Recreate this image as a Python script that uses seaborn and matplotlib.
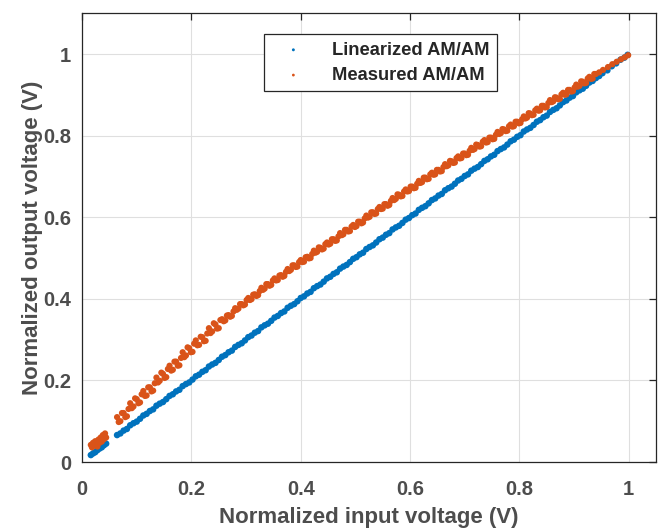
import pandas as pd
import matplotlib
matplotlib.use("Agg")
import matplotlib.pyplot as plt
import seaborn as sns

sns.set_style("white")
plt.rcParams['font.family'] = ['Liberation Sans', 'DejaVu Sans']
plt.rcParams['font.weight'] = 'bold'

# --- data ---
# shared input grid for the dense part of both traces
grid_in = [0.064, 0.070, 0.076, 0.082, 0.088, 0.094, 0.100, 0.106, 0.112, 0.118,
           0.124, 0.130, 0.136, 0.142, 0.148, 0.154, 0.160, 0.166, 0.172, 0.178,
           0.184, 0.190, 0.196, 0.202, 0.208, 0.214, 0.220, 0.226, 0.232, 0.238,
           0.244, 0.250, 0.256, 0.262, 0.268, 0.274, 0.280, 0.286, 0.292, 0.298,
           0.304, 0.310, 0.316, 0.322, 0.328, 0.334, 0.340, 0.346, 0.352, 0.358,
           0.364, 0.370, 0.376, 0.382, 0.388, 0.394, 0.400, 0.406, 0.412, 0.418,
           0.424, 0.430, 0.436, 0.442, 0.448, 0.454, 0.460, 0.466, 0.472, 0.478,
           0.484, 0.490, 0.496, 0.502, 0.508, 0.514, 0.520, 0.526, 0.532, 0.538,
           0.544, 0.550, 0.556, 0.562, 0.568, 0.574, 0.580, 0.586, 0.592, 0.598,
           0.604, 0.610, 0.616, 0.622, 0.628, 0.634, 0.640, 0.646, 0.652, 0.658,
           0.664, 0.670, 0.676, 0.682, 0.688, 0.694, 0.700, 0.706, 0.712, 0.718,
           0.724, 0.730, 0.736, 0.742, 0.748, 0.754, 0.760, 0.766, 0.772, 0.778,
           0.784, 0.790, 0.796, 0.802, 0.808, 0.814, 0.820, 0.826, 0.832, 0.838,
           0.844, 0.850, 0.856, 0.862, 0.868, 0.874, 0.880, 0.886, 0.892, 0.898,
           0.904, 0.910, 0.916, 0.922, 0.928, 0.934, 0.940]

# in-between input samples (measured trace is denser)
mid_in = [0.067, 0.073, 0.079, 0.085, 0.091, 0.097, 0.103, 0.109, 0.115, 0.121,
          0.127, 0.133, 0.139, 0.145, 0.151, 0.157, 0.163, 0.169, 0.175, 0.181,
          0.187, 0.193, 0.199, 0.205, 0.211, 0.217, 0.223, 0.229, 0.235, 0.241,
          0.247, 0.253, 0.259, 0.265, 0.271, 0.277, 0.283, 0.289, 0.295, 0.301,
          0.307, 0.313, 0.319, 0.325, 0.331, 0.337, 0.343, 0.349, 0.355, 0.361,
          0.367, 0.373, 0.379, 0.385, 0.391, 0.397, 0.403, 0.409, 0.415, 0.421,
          0.427, 0.433, 0.439, 0.445, 0.451, 0.457, 0.463, 0.469, 0.475, 0.481,
          0.487, 0.493, 0.499, 0.505, 0.511, 0.517, 0.523, 0.529, 0.535, 0.541,
          0.547, 0.553, 0.559, 0.565, 0.571, 0.577, 0.583, 0.589, 0.595, 0.601,
          0.607, 0.613, 0.619, 0.625, 0.631, 0.637, 0.643, 0.649, 0.655, 0.661,
          0.667, 0.673, 0.679, 0.685, 0.691, 0.697, 0.703, 0.709, 0.715, 0.721,
          0.727, 0.733, 0.739, 0.745, 0.751, 0.757, 0.763, 0.769, 0.775, 0.781,
          0.787, 0.793, 0.799, 0.805, 0.811, 0.817, 0.823, 0.829, 0.835, 0.841,
          0.847, 0.853, 0.859, 0.865, 0.871, 0.877, 0.883, 0.889, 0.895, 0.901,
          0.907, 0.913, 0.919, 0.925, 0.931, 0.937]

lin_out_grid = [0.066, 0.070, 0.077, 0.081, 0.090, 0.095, 0.099, 0.106, 0.114, 0.118,
                0.125, 0.129, 0.138, 0.143, 0.147, 0.154, 0.162, 0.166, 0.173, 0.177,
                0.186, 0.191, 0.195, 0.202, 0.210, 0.214, 0.221, 0.225, 0.234, 0.239,
                0.243, 0.250, 0.258, 0.262, 0.269, 0.273, 0.282, 0.287, 0.291, 0.298,
                0.306, 0.310, 0.317, 0.321, 0.330, 0.335, 0.339, 0.346, 0.354, 0.358,
                0.365, 0.369, 0.378, 0.383, 0.387, 0.394, 0.402, 0.406, 0.413, 0.417,
                0.426, 0.431, 0.435, 0.442, 0.450, 0.454, 0.461, 0.465, 0.474, 0.479,
                0.483, 0.490, 0.498, 0.502, 0.509, 0.513, 0.522, 0.527, 0.531, 0.538,
                0.546, 0.550, 0.557, 0.561, 0.570, 0.575, 0.579, 0.586, 0.594, 0.598,
                0.605, 0.609, 0.618, 0.623, 0.627, 0.634, 0.642, 0.646, 0.653, 0.657,
                0.666, 0.671, 0.675, 0.682, 0.690, 0.694, 0.701, 0.705, 0.714, 0.719,
                0.723, 0.730, 0.738, 0.742, 0.749, 0.753, 0.762, 0.767, 0.771, 0.778,
                0.786, 0.790, 0.797, 0.801, 0.810, 0.815, 0.819, 0.826, 0.834, 0.838,
                0.845, 0.849, 0.858, 0.863, 0.867, 0.874, 0.882, 0.886, 0.893, 0.897,
                0.906, 0.911, 0.915, 0.922, 0.930, 0.934, 0.941]

meas_out_grid = [0.110, 0.100, 0.120, 0.112, 0.144, 0.136, 0.154, 0.146, 0.174, 0.163,
                 0.183, 0.175, 0.207, 0.199, 0.216, 0.208, 0.236, 0.226, 0.246, 0.237,
                 0.269, 0.261, 0.279, 0.270, 0.298, 0.287, 0.306, 0.297, 0.328, 0.320,
                 0.337, 0.328, 0.350, 0.347, 0.360, 0.358, 0.377, 0.376, 0.387, 0.386,
                 0.402, 0.399, 0.411, 0.409, 0.427, 0.425, 0.436, 0.434, 0.450, 0.446,
                 0.458, 0.456, 0.473, 0.471, 0.482, 0.479, 0.495, 0.491, 0.503, 0.500,
                 0.518, 0.515, 0.525, 0.523, 0.538, 0.535, 0.546, 0.543, 0.561, 0.558,
                 0.569, 0.566, 0.581, 0.578, 0.589, 0.587, 0.604, 0.601, 0.612, 0.609,
                 0.625, 0.621, 0.632, 0.630, 0.647, 0.645, 0.655, 0.652, 0.668, 0.664,
                 0.675, 0.672, 0.689, 0.686, 0.697, 0.694, 0.709, 0.705, 0.716, 0.713,
                 0.730, 0.727, 0.737, 0.734, 0.749, 0.745, 0.756, 0.753, 0.770, 0.767,
                 0.777, 0.774, 0.789, 0.784, 0.795, 0.792, 0.809, 0.806, 0.815, 0.812,
                 0.827, 0.823, 0.834, 0.831, 0.847, 0.844, 0.854, 0.851, 0.866, 0.862,
                 0.873, 0.870, 0.887, 0.884, 0.893, 0.890, 0.905, 0.901, 0.912, 0.909,
                 0.925, 0.922, 0.932, 0.929, 0.944, 0.940, 0.951]

meas_out_mid = [0.098, 0.120, 0.110, 0.130, 0.132, 0.156, 0.144, 0.166, 0.162, 0.183,
                0.173, 0.193, 0.195, 0.219, 0.206, 0.228, 0.224, 0.246, 0.236, 0.255,
                0.257, 0.281, 0.269, 0.290, 0.286, 0.307, 0.296, 0.315, 0.316, 0.340,
                0.327, 0.348, 0.345, 0.359, 0.356, 0.369, 0.373, 0.387, 0.384, 0.397,
                0.397, 0.410, 0.407, 0.419, 0.422, 0.436, 0.432, 0.445, 0.445, 0.457,
                0.454, 0.466, 0.468, 0.482, 0.478, 0.490, 0.490, 0.502, 0.499, 0.510,
                0.513, 0.526, 0.521, 0.534, 0.533, 0.546, 0.542, 0.553, 0.556, 0.569,
                0.565, 0.577, 0.576, 0.589, 0.585, 0.597, 0.599, 0.612, 0.608, 0.620,
                0.620, 0.632, 0.628, 0.640, 0.642, 0.656, 0.651, 0.663, 0.663, 0.675,
                0.671, 0.682, 0.684, 0.697, 0.693, 0.705, 0.704, 0.716, 0.712, 0.723,
                0.725, 0.738, 0.733, 0.745, 0.744, 0.756, 0.752, 0.763, 0.765, 0.778,
                0.773, 0.785, 0.783, 0.795, 0.791, 0.802, 0.804, 0.816, 0.811, 0.823,
                0.822, 0.834, 0.830, 0.840, 0.842, 0.855, 0.850, 0.862, 0.861, 0.873,
                0.869, 0.880, 0.882, 0.894, 0.889, 0.901, 0.900, 0.912, 0.908, 0.918,
                0.920, 0.933, 0.928, 0.940, 0.939, 0.951]

# sparse low-amplitude and high-amplitude samples
lin_in_low = [0.016, 0.020, 0.024, 0.028, 0.032, 0.036, 0.040, 0.044]
lin_out_low = [0.017, 0.021, 0.024, 0.029, 0.033, 0.036, 0.041, 0.045]
lin_in_high = [0.946, 0.952, 0.961, 0.969, 0.977, 0.985, 0.992, 0.998]
lin_out_high = [0.946, 0.953, 0.960, 0.970, 0.977, 0.986, 0.991, 0.998]

meas_in_low = [0.016, 0.018, 0.020, 0.022, 0.024, 0.026, 0.028, 0.030,
               0.032, 0.034, 0.036, 0.038, 0.040, 0.042, 0.044]
meas_out_low = [0.042, 0.036, 0.047, 0.040, 0.051, 0.044, 0.038, 0.055,
                0.047, 0.060, 0.050, 0.066, 0.056, 0.070, 0.060]
meas_in_high = [0.946, 0.953, 0.962, 0.970, 0.978, 0.986, 0.993, 0.999]
meas_out_high = [0.955, 0.961, 0.968, 0.975, 0.981, 0.987, 0.992, 0.997]

series_names = ['Linearized AM/AM', 'Measured AM/AM']
colors = ['#0072BD', '#D95319']

lin_in = lin_in_low + grid_in + lin_in_high
lin_out = lin_out_low + lin_out_grid + lin_out_high
meas_in = meas_in_low + grid_in + mid_in + meas_in_high
meas_out = meas_out_low + meas_out_grid + meas_out_mid + meas_out_high

df_lin = pd.DataFrame({'vin': lin_in, 'vout': lin_out, 'series': series_names[0]})
df_meas = pd.DataFrame({'vin': meas_in, 'vout': meas_out, 'series': series_names[1]})

fig, ax = plt.subplots(figsize=(6.62, 5.28), dpi=100)
fig.subplots_adjust(left=0.124, right=0.991, bottom=0.125, top=0.975)

sns.scatterplot(data=df_lin, x='vin', y='vout', color=colors[0], s=22,
                linewidth=0, edgecolor='none', ax=ax, zorder=3, label=series_names[0])
sns.scatterplot(data=df_meas, x='vin', y='vout', color=colors[1], s=20,
                linewidth=0, edgecolor='none', ax=ax, zorder=3, label=series_names[1])

ax.set_xlim(0, 1.05)
ax.set_ylim(0, 1.1)
ax.set_xticks([0, 0.2, 0.4, 0.6, 0.8, 1.0])
ax.set_xticklabels(['0', '0.2', '0.4', '0.6', '0.8', '1'])
ax.set_yticks([0, 0.2, 0.4, 0.6, 0.8, 1.0])
ax.set_yticklabels(['0', '0.2', '0.4', '0.6', '0.8', '1'])
ax.grid(True, color='#dfdfdf', linewidth=0.8)
ax.set_axisbelow(True)

for sp in ax.spines.values():
    sp.set_color('#262626')
    sp.set_linewidth(0.9)
    sp.set_visible(True)

ax.tick_params(direction='in', length=5, width=0.9, color='#262626',
               top=True, right=True, labelsize=14.5, labelcolor='#4d4d4d')
ax.tick_params(axis='x', pad=13)
ax.tick_params(axis='y', pad=8)
for lab in ax.get_xticklabels() + ax.get_yticklabels():
    lab.set_fontweight('bold')

ax.set_xlabel('Normalized input voltage (V)', fontsize=16, fontweight='bold',
              color='#4d4d4d', labelpad=6)
ax.set_ylabel('Normalized output voltage (V)', fontsize=16, fontweight='bold',
              color='#4d4d4d', labelpad=0)

leg = ax.legend(loc='upper left', bbox_to_anchor=(0.317, 0.953), borderaxespad=0,
                fancybox=False, framealpha=1, edgecolor='#262626',
                prop={'size': 13.2, 'weight': 'bold'}, markerscale=0.45,
                handletextpad=0.9, borderpad=0.4, labelspacing=0.45,
                handlelength=2.4)
leg.get_frame().set_linewidth(0.9)
for t in leg.get_texts():
    t.set_color('#262626')

plt.savefig('out.png', dpi=100)
